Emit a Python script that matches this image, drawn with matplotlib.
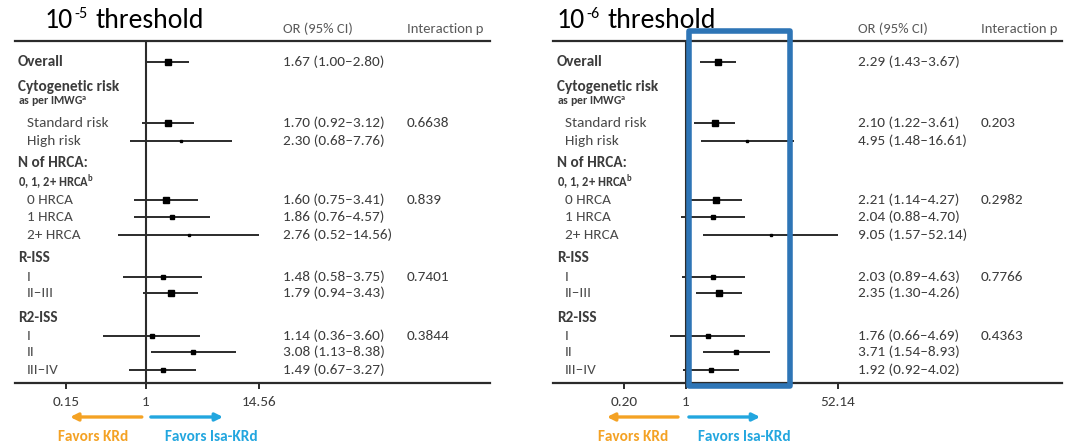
import matplotlib
matplotlib.use('Agg')
import matplotlib.pyplot as plt
from matplotlib.transforms import blended_transform_factory
from matplotlib.patches import Rectangle
from matplotlib.ticker import NullLocator

plt.rcParams['font.family'] = ['Carlito', 'DejaVu Sans']
plt.rcParams['mathtext.default'] = 'regular'

## Rows of the table (shared by both panels)
row_labels = ['Overall', 'Cytogenetic risk', r'as per IMWG$\mathregular{^a}$',
              'Standard risk', 'High risk', 'N of HRCA:', r'0, 1, 2+ HRCA$\mathregular{^b}$',
              '0 HRCA', '1 HRCA', '2+ HRCA', 'R-ISS', 'I', 'II\u2013III',
              'R2-ISS', 'I', 'II', 'III\u2013IV']
row_kind = ['head', 'head', 'sub', 'item', 'item', 'head', 'sub2',
            'item', 'item', 'item', 'head', 'item', 'item',
            'head', 'item', 'item', 'item']
# rows that carry an estimate (index into row_labels)
est_rows = [0, 3, 4, 7, 8, 9, 11, 12, 14, 15, 16]

## 10^-5 threshold
or_5 = [1.67, 1.70, 2.30, 1.60, 1.86, 2.76, 1.48, 1.79, 1.14, 3.08, 1.49]
lo_5 = [1.00, 0.92, 0.68, 0.75, 0.76, 0.52, 0.58, 0.94, 0.36, 1.13, 0.67]
hi_5 = [2.80, 3.12, 7.76, 3.41, 4.57, 14.56, 3.75, 3.43, 3.60, 8.38, 3.27]
p_5 = ['', '0.6638', '', '0.839', '', '', '0.7401', '', '0.3844', '', '']
ticks_5 = [0.15, 1, 14.56]
ticklabels_5 = ['0.15', '1', '14.56']

## 10^-6 threshold
or_6 = [2.29, 2.10, 4.95, 2.21, 2.04, 9.05, 2.03, 2.35, 1.76, 3.71, 1.92]
lo_6 = [1.43, 1.22, 1.48, 1.14, 0.88, 1.57, 0.89, 1.30, 0.66, 1.54, 0.92]
hi_6 = [3.67, 3.61, 16.61, 4.27, 4.70, 52.14, 4.63, 4.26, 4.69, 8.93, 4.02]
p_6 = ['', '0.203', '', '0.2982', '', '', '0.7766', '', '0.4363', '', '']
ticks_6 = [0.20, 1, 52.14]
ticklabels_6 = ['0.20', '1', '52.14']

## layout (row positions in line units from the top rule)
row_y = [1.19, 2.61, 3.47, 4.66, 5.68, 6.93, 8.01, 9.03, 10.0, 11.02,
         12.33, 13.41, 14.32, 15.74, 16.76, 17.67, 18.69]
y_bottom = 19.43
marker_pt = [4.6, 5.0, 2.0, 3.9, 3.0, 2.0, 3.0, 3.9, 2.5, 3.0, 3.5]

W, H = 1066, 444
dark = '#2b2b2b'
text_c = '#3c3c3c'
orange = '#f4a224'
blue = '#22a6df'

fig = plt.figure(figsize=(W / 100, H / 100), dpi=100)


def draw_panel(x0_px, x1_px, one_px, px_dec, exponent, title_x, ors, los, his, ps,
               ticks, ticklabels, lab_x, col_or, col_p, arrows):
    top_px, bot_px = 41, 383
    ax = fig.add_axes([x0_px / W, 1 - bot_px / H, (x1_px - x0_px) / W, (bot_px - top_px) / H])
    ax.set_xscale('log')
    ax.set_xlim(10 ** ((x0_px - one_px) / px_dec), 10 ** ((x1_px - one_px) / px_dec))
    ax.set_ylim(y_bottom, 0)
    for s in ['left', 'right']:
        ax.spines[s].set_visible(False)
    for s in ['top', 'bottom']:
        ax.spines[s].set_linewidth(1.6)
        ax.spines[s].set_color(dark)
    ax.set_yticks([])
    ax.set_xticks(ticks)
    ax.set_xticklabels(ticklabels)
    ax.xaxis.set_minor_locator(NullLocator())
    ax.tick_params(axis='x', length=4, width=1.4, color=dark, pad=5,
                   labelsize=11, labelcolor=text_c)
    ax.axvline(1, color=dark, lw=1.5, zorder=1)

    tr = blended_transform_factory(ax.transAxes, ax.transData)
    for lab, kind, y in zip(row_labels, row_kind, row_y):
        if kind == 'head':
            ax.text(lab_x[0], y, lab, transform=tr, fontsize=11, fontweight='bold',
                    color=text_c, va='center')
        elif kind == 'sub':
            ax.text(lab_x[0], y, lab, transform=tr, fontsize=8.5, fontweight='bold',
                    color=text_c, va='center')
        elif kind == 'sub2':
            ax.text(lab_x[0], y, lab, transform=tr, fontsize=9, fontweight='bold',
                    color=text_c, va='center')
        else:
            ax.text(lab_x[1], y, lab, transform=tr, fontsize=11, color='#4a4a4a',
                    va='center')

    for i, r in enumerate(est_rows):
        y = row_y[r]
        ax.plot([los[i], his[i]], [y, y], color=dark, lw=1.4, solid_capstyle='butt', zorder=2)
        ax.plot([ors[i]], [y], marker='s', ms=marker_pt[i], color='black', mec='black', zorder=3)
        ax.text(col_or, y, '%.2f (%.2f\u2013%.2f)' % (ors[i], los[i], his[i]), transform=tr,
                fontsize=11, color=text_c, va='center')
        if ps[i]:
            ax.text(col_p, y, ps[i], transform=tr, fontsize=11, color=text_c, va='center')

    ax.text(col_or, -0.68, 'OR (95% CI)', transform=tr, fontsize=10.5, color='#5a5a5a', va='center')
    ax.text(col_p, -0.68, 'Interaction p', transform=tr, fontsize=10.5, color='#5a5a5a', va='center')

    # title: 10, raised exponent, then "threshold"
    base = 1 - 28 / H
    t1 = ax.annotate('10', xy=(title_x / W, base), xycoords='figure fraction',
                     fontsize=20, va='baseline', annotation_clip=False)
    t2 = ax.annotate(exponent, xy=(1, base), xycoords=(t1, 'figure fraction'),
                     xytext=(0.5, 7), textcoords='offset points',
                     fontsize=11.5, va='baseline', annotation_clip=False)
    ax.annotate('threshold', xy=(1, base), xycoords=(t2, 'figure fraction'),
                xytext=(6, 0), textcoords='offset points',
                fontsize=20, va='baseline', annotation_clip=False)

    # favour arrows
    (ox0, ox1), (bx0, bx1), (tk, tb) = arrows
    ya, yt = -0.0994, -0.158
    for xa, xb, c in [(ox0, ox1, orange), (bx0, bx1, blue)]:
        ax.annotate('', xy=(xb, ya), xytext=(xa, ya), xycoords='axes fraction',
                    annotation_clip=False,
                    arrowprops=dict(arrowstyle='-|>', color=c, lw=2.4,
                                    mutation_scale=11, shrinkA=0, shrinkB=0))
    ax.text(tk, yt, 'Favors KRd', transform=ax.transAxes, fontsize=11, fontweight='bold',
            color=orange, ha='center', va='center')
    ax.text(tb, yt, 'Favors Isa-KRd', transform=ax.transAxes, fontsize=11, fontweight='bold',
            color=blue, ha='center', va='center')
    return ax


draw_panel(15, 490, 146, 97, '-5', 45,
           or_5, lo_5, hi_5, p_5, ticks_5, ticklabels_5,
           (0.006, 0.025), 0.564, 0.825,
           ((0.267, 0.116), (0.286, 0.438), (0.164, 0.413)))

draw_panel(553, 1062, 686, 88.5, '-6', 557,
           or_6, lo_6, hi_6, p_6, ticks_6, ticklabels_6,
           (0.008, 0.024), 0.599, 0.841,
           ((0.2456, 0.106), (0.267, 0.407), (0.157, 0.375)))

# highlight box on the 10^-6 panel
fig.add_artist(Rectangle((689 / W, 1 - 386 / H), 101 / W, 355 / H, transform=fig.transFigure,
                         fill=False, edgecolor='#2e75b6', lw=4, joinstyle='round', zorder=10))

fig.savefig('out.png', dpi=100, facecolor='white')
